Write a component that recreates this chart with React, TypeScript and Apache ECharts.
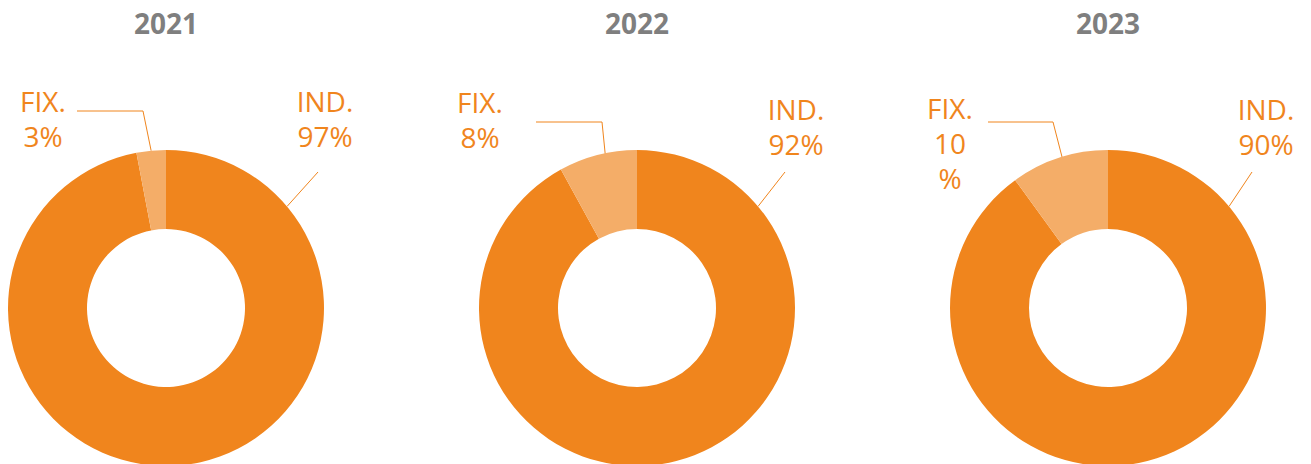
import React, { useEffect, useRef } from 'react';
import * as echarts from 'echarts';

// ---- data ----
const years = ['2021', '2022', '2023'];
const categories = ['IND.', 'FIX.'];
const indValues = [97, 92, 90];
const fixValues = [3, 8, 10];

// ---- layout / style ----
const W = 1311;
const H = 464;
const centersX = [166, 637, 1108];
const centerY = 308;
const outerR = 158;
const innerR = 79;
const DARK = '#F0851D';
const LIGHT = '#F4AD68';
const TEXT = '#F0851D';
const TITLE = '#7F7F7F';
const FONT = 'Open Sans';

// label placement relative to each pie's centre
const fixLabelPos = [[-123, -190], [-157, -189], [-158, -165]];
const indLabelPos = [[159, -190], [159, -182], [158, -182]];
const fixAnchorR = [158, 108, 110];
const fixElbow = [[-23, -197], [-35, -186], [-55, -186]];
const fixEndX = [-89, -101, -120];
const indEnd = [[152, -136], [148, -136], [144, -136]];
const indAnchorAngle = 40; // degrees above horizontal
const fixLabelWidth: (number | null)[] = [null, null, 50];

export default function App() {
  const ref = useRef<HTMLDivElement>(null);

  useEffect(() => {
    if (!ref.current) return;
    const chart = echarts.init(ref.current, null, { renderer: 'svg', width: W, height: H });

    const series = years.map((y, i) => {
      const cx = centersX[i];
      const total = indValues[i] + fixValues[i];
      return {
        type: 'pie',
        name: y,
        center: [cx, centerY],
        radius: [innerR, outerR],
        startAngle: 90,
        clockwise: true,
        silent: true,
        avoidLabelOverlap: false,
        emphasis: { disabled: true },
        data: [
          { name: categories[0], value: indValues[i], itemStyle: { color: DARK } },
          {
            name: categories[1],
            value: fixValues[i],
            itemStyle: { color: LIGHT },
            label: fixLabelWidth[i] ? { width: fixLabelWidth[i], overflow: 'breakAll' } : {},
          },
        ],
        label: {
          show: true,
          position: 'outside',
          formatter: (p: any) => `${p.name}\n${p.value}%`,
          color: TEXT,
          fontFamily: FONT,
          fontSize: 28,
          lineHeight: 35,
          align: 'center',
        },
        labelLine: {
          show: true,
          length: 10,
          length2: 10,
          lineStyle: { color: DARK, width: 1 },
        },
        labelLayout: (p: any) => {
          if (p.dataIndex === 0) {
            const a = (indAnchorAngle * Math.PI) / 180;
            const sx = cx + outerR * Math.cos(a);
            const sy = centerY - outerR * Math.sin(a);
            return {
              x: cx + indLabelPos[i][0],
              y: centerY + indLabelPos[i][1],
              align: 'center',
              verticalAlign: 'middle',
              labelLinePoints: [
                [sx, sy],
                [cx + indEnd[i][0], centerY + indEnd[i][1]],
              ],
            };
          }
          const theta = (2 * Math.PI * (indValues[i] + fixValues[i] / 2)) / total;
          const sx = cx + fixAnchorR[i] * Math.sin(theta);
          const sy = centerY - fixAnchorR[i] * Math.cos(theta);
          return {
            x: cx + fixLabelPos[i][0],
            y: centerY + fixLabelPos[i][1],
            align: 'center',
            verticalAlign: 'middle',
            labelLinePoints: [
              [sx, sy],
              [cx + fixElbow[i][0], centerY + fixElbow[i][1]],
              [cx + fixEndX[i], centerY + fixElbow[i][1]],
            ],
          };
        },
      };
    });

    chart.setOption({
      animation: false,
      backgroundColor: '#ffffff',
      title: years.map((y, i) => ({
        text: y,
        left: centersX[i],
        top: 9,
        textAlign: 'center',
        padding: 0,
        textStyle: { fontFamily: FONT, fontWeight: 'bold', fontSize: 28, color: TITLE },
      })),
      series,
    } as any);

    return () => chart.dispose();
  }, []);

  return (
    <div
      ref={ref}
      style={{ position: 'absolute', left: 0, top: 0, width: W, height: H, overflow: 'hidden' }}
    />
  );
}
